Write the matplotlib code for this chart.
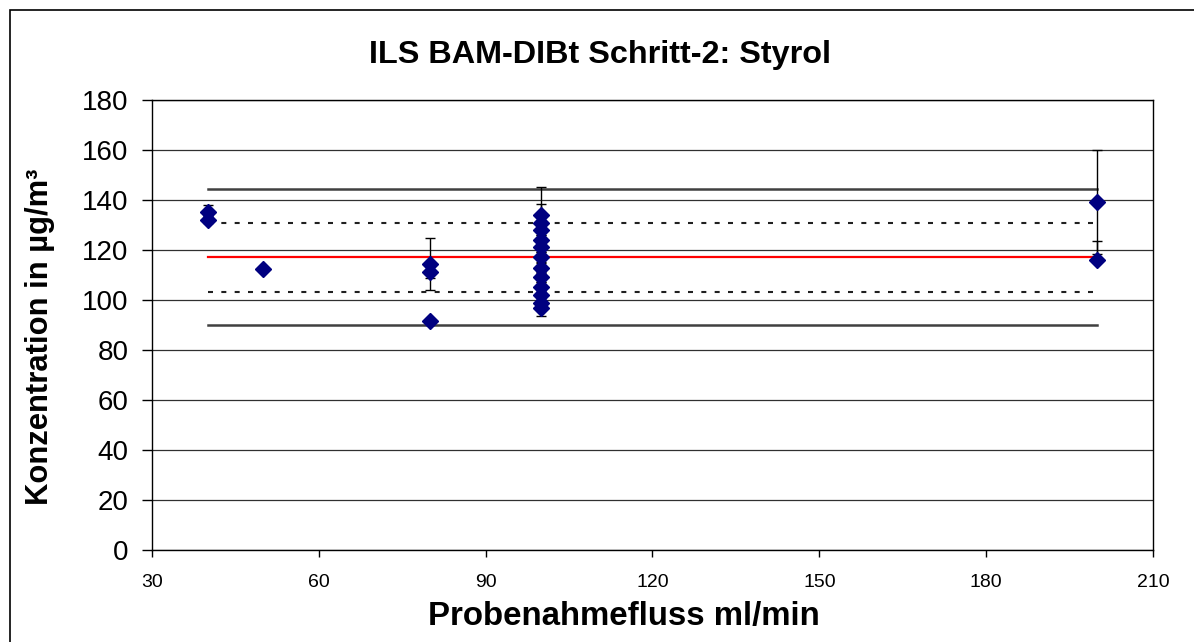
import matplotlib
matplotlib.use("Agg")
import matplotlib.pyplot as plt
from matplotlib.patches import Rectangle

plt.rcParams['font.family'] = ['Liberation Sans', 'DejaVu Sans']

# ---- data ----
flow = [40, 40, 50, 80, 80, 80,
        100, 100, 100, 100, 100, 100, 100, 100, 100, 100, 100, 100,
        200, 200]
conc = [135.3, 132.2, 112.5, 114.3, 111.3, 91.5,
        134.0, 130.7, 128.0, 124.0, 121.3, 117.3, 112.7, 109.3, 105.3, 102.0, 98.7, 96.7,
        139.3, 116.0]
err_low = [2.7, 1.5, 0.0, 10.4, 2.6, 0.0,
           11.3, 7.7, 2.0, 2.0, 2.0, 2.0, 2.0, 2.0, 2.0, 2.0, 2.0, 3.1,
           20.7, 0.0]
err_high = [2.7, 1.5, 0.0, 10.4, 2.6, 0.0,
            11.3, 7.7, 2.0, 2.0, 2.0, 2.0, 2.0, 2.0, 2.0, 2.0, 2.0, 3.1,
            20.7, 7.7]

line_x = [40, 200]
upper_limit = 144.5
upper_dotted = 131.0
mean_value = 117.2
lower_dotted = 103.2
lower_limit = 90.0

x_ticks = [30, 60, 90, 120, 150, 180, 210]
y_ticks = [0, 20, 40, 60, 80, 100, 120, 140, 160, 180]

title = "ILS BAM-DIBt Schritt-2: Styrol"
xlabel = "Probenahmefluss ml/min"
ylabel = "Konzentration in µg/m³"

# ---- figure ----
W, H = 1194, 642
fig = plt.figure(figsize=(W / 100, H / 100), dpi=100)
ax = fig.add_axes([152 / W, 1 - 550 / H, (1153 - 152) / W, 450 / H])

# outer chart border (left/top visible)
fig.patches.append(Rectangle((10 / W, -0.05), 1.2, 1 - 10 / H + 0.05,
                             transform=fig.transFigure, fill=False,
                             edgecolor='black', linewidth=1.2, zorder=0))

ax.set_xlim(30, 210)
ax.set_ylim(0, 180)
ax.set_xticks(x_ticks)
ax.set_yticks(y_ticks)
ax.tick_params(axis='y', labelsize=20, length=7, width=1, direction='out', pad=10)
ax.tick_params(axis='x', labelsize=14, length=5, width=1, direction='out', pad=12)
ax.yaxis.grid(True, color='#303030', linewidth=0.9)
ax.set_axisbelow(True)
for s in ax.spines.values():
    s.set_color('black')
    s.set_linewidth(1.0)

# reference lines
ax.plot(line_x, [upper_limit] * 2, color='#404040', linewidth=1.8, zorder=2)
ax.plot(line_x, [lower_limit] * 2, color='#404040', linewidth=1.8, zorder=2)
ax.plot(line_x, [upper_dotted] * 2, color='#202020', linewidth=1.5,
        linestyle=(0, (2.4, 4.0)), zorder=2)
ax.plot(line_x, [lower_dotted] * 2, color='#202020', linewidth=1.5,
        linestyle=(0, (2.4, 4.0)), zorder=2)
ax.plot(line_x, [mean_value] * 2, color='#ff0000', linewidth=1.6, zorder=2)

# data with error bars
ax.errorbar(flow, conc, yerr=[err_low, err_high], fmt='none', ecolor='black',
            elinewidth=1.0, capsize=3.8, capthick=1.0, zorder=3)
ax.plot(flow, conc, linestyle='none', marker='D', markersize=8.5,
        color='#000080', markeredgecolor='#000080', zorder=4)

fig.text(600 / W, 1 - 55 / H, title, fontsize=23.3, fontweight='bold',
         ha='center', va='center')
fig.text(624 / W, 1 - 616 / H, xlabel, fontsize=23.8, fontweight='bold',
         ha='center', va='center')
fig.text(40 / W, 1 - 337 / H, ylabel, fontsize=22.3, fontweight='bold',
         ha='center', va='center', rotation=90)

fig.savefig("out.png", dpi=100)
